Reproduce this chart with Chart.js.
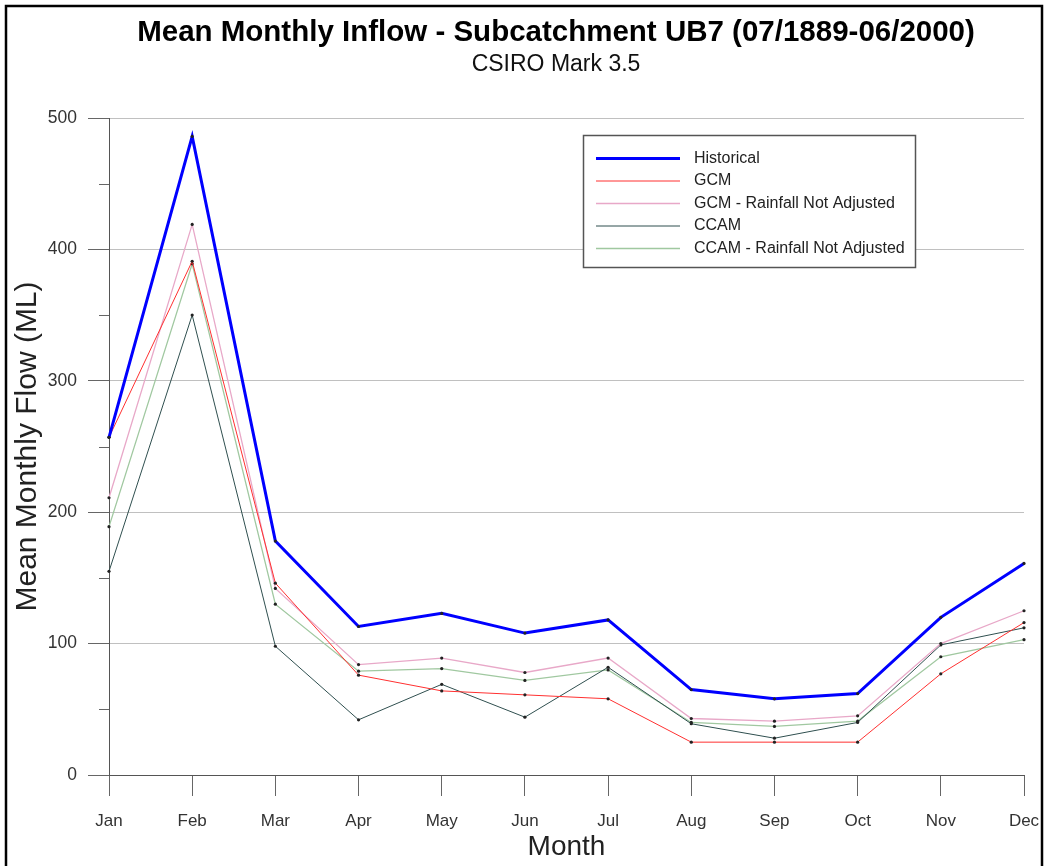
<!DOCTYPE html>
<html>
<head>
<meta charset="utf-8">
<title>Mean Monthly Inflow - Subcatchment UB7</title>
<script src="https://cdn.jsdelivr.net/npm/chart.js@4/dist/chart.umd.min.js"></script>
<style>
  html, body { margin: 0; padding: 0; background: #fff; }
  #wrap { width: 1049px; height: 866px; }
</style>
</head>
<body>
<div id="wrap"><canvas id="flowChart" width="1049" height="866"></canvas></div>
<script>
// month labels and mean monthly flow (ML)
var months = ['Jan','Feb','Mar','Apr','May','Jun','Jul','Aug','Sep','Oct','Nov','Dec'];
var historical = [257, 486, 178, 113, 123, 108, 118, 65, 58, 62, 120, 161];
var gcm        = [257, 391, 146, 76, 64, 61, 58, 25, 25, 25, 77, 116];
var gcmRna     = [211, 419, 142, 84, 89, 78, 89, 43, 41, 45, 100, 125];
var ccam       = [155, 350, 98, 42, 69, 44, 82, 39, 28, 40, 99, 112];
var ccamRna    = [189, 389, 130, 79, 81, 72, 80, 40, 37, 41, 90, 103];
var minorTicks = [50, 150, 250, 350, 450];

Chart.defaults.font.family = "'Liberation Sans', Arial, sans-serif";
Chart.defaults.color = '#333';

function series(label, data, color, width) {
  return {
    label: label,
    data: data,
    borderColor: color,
    backgroundColor: color,
    borderWidth: width,
    pointRadius: 1.6,
    pointBorderWidth: 0,
    pointBackgroundColor: '#222',
    pointHoverRadius: 2,
    tension: 0,
    fill: false
  };
}

// frame round the whole picture, minor y ticks and the boxed legend
var extras = {
  id: 'extras',
  afterLayout: function(chart) {
    // titles sit a little right of the canvas centre in the original
    chart.boxes.forEach(function(b) {
      if (b.position === 'top' && b.options && b.options.text) {
        b.left += 88;
      }
    });
  },
  afterDraw: function(chart) {
    var ctx = chart.ctx;
    var y = chart.scales.y;
    ctx.save();

    ctx.strokeStyle = '#666';
    ctx.lineWidth = 1;
    minorTicks.forEach(function(v) {
      var py = Math.round(y.getPixelForValue(v)) + 0.5;
      ctx.beginPath();
      ctx.moveTo(y.right - 10, py);
      ctx.lineTo(y.right, py);
      ctx.stroke();
    });

    // legend
    var bx = 583, by = 135, bw = 332, bh = 132;
    ctx.fillStyle = '#fff';
    ctx.fillRect(bx, by, bw, bh);
    ctx.strokeStyle = '#555';
    ctx.lineWidth = 1.5;
    ctx.strokeRect(bx + 0.5, by + 0.5, bw, bh);
    ctx.font = "16px 'Liberation Sans', Arial, sans-serif";
    ctx.textBaseline = 'middle';
    ctx.textAlign = 'left';
    chart.data.datasets.forEach(function(ds, i) {
      var ry = 158.5 + i * 22.5;
      ctx.strokeStyle = ds.borderColor;
      ctx.lineWidth = ds.borderWidth;
      ctx.beginPath();
      ctx.moveTo(596, ry);
      ctx.lineTo(680, ry);
      ctx.stroke();
      ctx.fillStyle = '#222';
      ctx.fillText(ds.label, 694, ry);
    });

    ctx.strokeStyle = '#000';
    ctx.lineWidth = 2.5;
    ctx.strokeRect(6, 6, 1036, 900);
    ctx.restore();
  }
};

var ctx = document.getElementById('flowChart').getContext('2d');
window.flowChart = new Chart(ctx, {
  type: 'line',
  data: {
    labels: months,
    datasets: [
      series('Historical', historical, '#0000ff', 3),
      series('GCM', gcm, '#ff3030', 1),
      series('GCM - Rainfall Not Adjusted', gcmRna, '#e8a8c8', 1.3),
      series('CCAM', ccam, '#2f4f4f', 1),
      series('CCAM - Rainfall Not Adjusted', ccamRna, '#a0c8a0', 1.3)
    ]
  },
  options: {
    responsive: false,
    animation: false,
    layout: { padding: { left: 0, right: 25, top: 0, bottom: 0 } },
    plugins: {
      legend: { display: false },
      tooltip: { enabled: false },
      title: {
        display: true,
        text: 'Mean Monthly Inflow - Subcatchment UB7 (07/1889-06/2000)',
        color: '#000',
        font: { size: 29.5, weight: 'bold' },
        padding: { top: 15, bottom: 0 }
      },
      subtitle: {
        display: true,
        text: 'CSIRO Mark 3.5',
        color: '#111',
        font: { size: 23 },
        padding: { top: 0, bottom: 40 }
      }
    },
    scales: {
      x: {
        offset: false,
        afterFit: function(s) { s.height = 91; s.paddingLeft = 0; s.paddingRight = 0; },
        grid: { drawOnChartArea: false, drawTicks: true, tickLength: 21, color: '#666' },
        border: { display: true, color: '#555', width: 1 },
        ticks: { padding: 15, font: { size: 17 }, color: '#333', maxRotation: 0 },
        title: {
          display: true,
          text: 'Month',
          color: '#222',
          font: { size: 28 },
          padding: { top: 0, bottom: 2 }
        }
      },
      y: {
        min: 0,
        max: 500,
        afterFit: function(s) { s.width = 109; },
        grid: { color: '#c0c0c0', tickColor: '#666', tickLength: 21, drawTicks: true },
        border: { display: true, color: '#555', width: 1 },
        ticks: { stepSize: 100, padding: 11, font: { size: 17.5 }, color: '#333' },
        title: {
          display: true,
          text: 'Mean Monthly Flow (ML)',
          color: '#222',
          font: { size: 30 },
          padding: { top: 10, bottom: 0 }
        }
      }
    }
  },
  plugins: [extras]
});
</script>
</body>
</html>
